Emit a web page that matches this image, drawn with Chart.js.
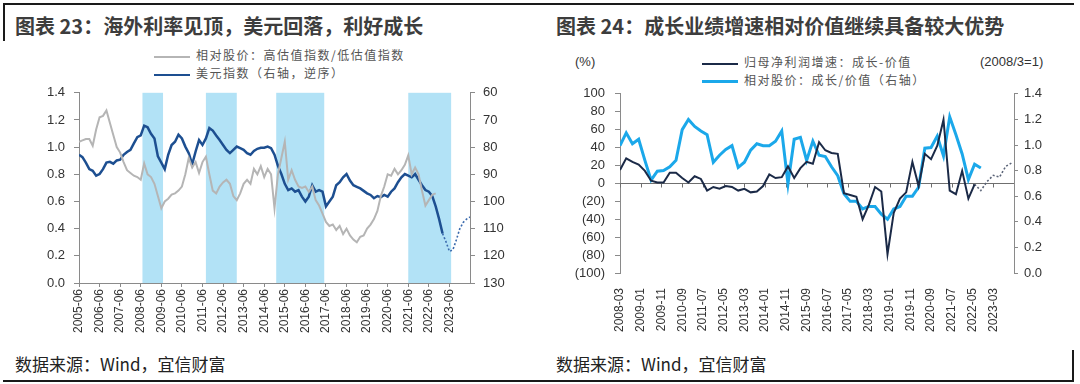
<!DOCTYPE html>
<html lang="zh-CN">
<head>
<meta charset="UTF-8">
<title>海外利率见顶 / 成长业绩增速</title>
<script src="https://cdn.jsdelivr.net/npm/chart.js@4.4.1/dist/chart.umd.min.js"></script>
<style>
    body { margin: 0; width: 1080px; height: 384px; background: #fff; position: relative; overflow: hidden;
           font-family: "Noto Sans CJK SC", "Noto Sans", sans-serif; }
    .rule { position: absolute; background: #1a1a1a; }
    .title { position: absolute; top: 12px; font-size: 20px; font-weight: bold; color: #3d3d3d; white-space: nowrap; line-height: 28px; }
    .source { position: absolute; top: 352px; font-size: 17px; color: #222; white-space: nowrap; line-height: 24px; }
    .legend { position: absolute; font-size: 12px; letter-spacing: 1.5px; color: #555; white-space: nowrap; line-height: 16px; }
    .legend i { display: inline-block; width: 36px; height: 0; vertical-align: middle; margin-right: 6px; }
    .unit { position: absolute; font-family: "Liberation Sans", Arial, sans-serif; font-size: 13px; color: #333; line-height: 16px; }
    canvas { position: absolute; }
</style>
</head>
<body>
    <div class="rule" style="left:3px; top:3px; width:1071px; height:2px;"></div>
    <div class="rule" style="left:3px; top:3px; width:2px; height:38px;"></div>
    <div class="rule" style="left:3px; top:380px; width:1071px; height:2px;"></div>
    <div class="rule" style="left:1072px; top:350px; width:2px; height:32px;"></div>

    <div class="title" style="left:15px;">图表 23：海外利率见顶，美元回落，利好成长</div>
    <div class="title" style="left:556px;">图表 24：成长业绩增速相对价值继续具备较大优势</div>

    <div class="legend" style="left:154px; top:47px;"><i style="border-top:2px solid #b5b5b5"></i>相对股价：高估值指数/低估值指数</div>
    <div class="legend" style="left:154px; top:65px;"><i style="border-top:2px solid #1d4f91"></i>美元指数（右轴，逆序）</div>

    <div class="unit" style="left:575px; top:54px;">(%)</div>
    <div class="unit" style="left:980px; top:54px;">(2008/3=1)</div>
    <div class="legend" style="left:702px; top:54px;"><i style="border-top:2px solid #1b2a47"></i>归母净利润增速：成长-价值</div>
    <div class="legend" style="left:702px; top:72px;"><i style="border-top:3px solid #1ba8ea"></i>相对股价：成长/价值（右轴）</div>

    <canvas id="leftChart" width="540" height="264" style="left:0; top:76px;"></canvas>
    <canvas id="rightChart" width="540" height="264" style="left:540px; top:76px;"></canvas>

    <div class="source" style="left:15px;">数据来源：Wind，宜信财富</div>
    <div class="source" style="left:556px;">数据来源：Wind，宜信财富</div>

<script>
    // ---- 图表 23 ----
    const leftBase = '2005-06';
    const leftAxisEnd = '2024-06';
    const leftTickLabels = ['2005-06', '2006-06', '2007-06', '2008-06', '2009-06', '2010-06', '2011-06',
        '2012-06', '2013-06', '2014-06', '2015-06', '2016-06', '2017-06', '2018-06', '2019-06',
        '2020-06', '2021-06', '2022-06', '2023-06'];

    // 阴影区间
    const leftBands = [['2008-07', '2009-07'], ['2011-08', '2013-02'], ['2015-01', '2017-05'], ['2021-06', '2023-07']];

    // 相对股价：高估值指数/低估值指数 (每两个月一个点, 从 2005-06 开始)
    const relPriceStart = '2005-06';
    const relPrice = [1.04, 1.05, 1.06, 1.06, 1.01, 1.13, 1.22, 1.23, 1.27, 1.18,
        1.09, 1.00, 0.96, 0.89, 0.83, 0.81, 0.79, 0.78, 0.76, 0.88,
        0.80, 0.78, 0.73, 0.64, 0.55, 0.60, 0.62, 0.65, 0.66, 0.68,
        0.71, 0.80, 0.92, 0.85, 0.89, 0.81, 0.89, 0.93, 0.80, 0.68,
        0.66, 0.71, 0.74, 0.76, 0.73, 0.64, 0.61, 0.66, 0.73, 0.76,
        0.73, 0.84, 0.80, 0.86, 0.78, 0.84, 0.80, 0.55, 0.80, 0.92,
        1.04, 0.76, 0.83, 0.76, 0.71, 0.70, 0.71, 0.67, 0.71, 0.61,
        0.57, 0.51, 0.45, 0.42, 0.43, 0.39, 0.42, 0.36, 0.40, 0.35,
        0.32, 0.30, 0.34, 0.35, 0.40, 0.43, 0.47, 0.53, 0.64, 0.71,
        0.80, 0.79, 0.84, 0.80, 0.83, 0.87, 0.94, 0.80, 0.85, 0.80,
        0.68, 0.57, 0.61, 0.65, 0.66];

    // 美元指数 (右轴, 逆序)
    const usdStart = '2005-06';
    const usdIndex = [82.8, 83.7, 85.7, 88.1, 88.7, 90.5, 89.9, 88.1, 85.7, 85.4,
        86.1, 84.9, 84.6, 82.8, 81.8, 81.0, 78.6, 76.3, 75.7, 72.1,
        72.7, 75.1, 76.8, 83.4, 85.7, 88.1, 82.8, 79.2, 78.0, 75.4,
        76.8, 79.8, 82.2, 86.3, 81.6, 77.4, 79.2, 76.8, 73.0, 73.9,
        75.7, 77.4, 79.2, 81.0, 82.2, 81.0, 79.8, 80.4, 81.0, 82.2,
        82.8, 81.4, 80.6, 80.2, 80.2, 79.8, 80.4, 82.8, 86.9, 89.9,
        93.5, 95.8, 95.2, 96.4, 95.8, 98.2, 100.0, 98.2, 94.0, 96.4,
        95.8, 96.4, 101.8, 100.0, 98.2, 94.0, 92.9, 91.1, 89.9, 92.3,
        94.0, 94.6, 95.2, 96.1, 97.0, 97.6, 98.8, 98.0, 98.4, 97.6,
        98.2, 96.4, 95.2, 92.9, 91.1, 89.9, 90.5, 91.1, 89.9, 92.0,
        94.0, 95.8, 96.4, 98.0, 101.8, 106.5, 111.8];
    const usdForecastStart = '2023-02';
    const usdForecast = [111.8, 114.8, 118.4, 117.8, 114.2, 110.1, 107.7, 106.5, 105.7];

    // ---- 图表 24 ----
    const rightBase = '2008-03';
    const rightAxisEnd = '2024-01';
    const rightTickLabels = ['2008-03', '2009-01', '2009-11', '2010-09', '2011-07', '2012-05', '2013-03',
        '2014-01', '2014-11', '2015-09', '2016-07', '2017-05', '2018-03', '2019-01', '2019-11',
        '2020-09', '2021-07', '2022-05', '2023-03'];

    // 归母净利润增速：成长-价值 (季度)
    const profitGapStart = '2008-03';
    const profitGap = [15, 28, 24, 21, 14, 3, 1, 1, 12, 12,
        6, 1, 8, 5, -8, -4, -6, -3, -4, -8,
        -6, -10, -9, -3, 10, 6, 7, 19, 6, 17,
        24, 22, 46, 37, 34, 33, -11, -13, -15, -40,
        -24, -4, -9, -79, -33, -17, -10, 24, -3, 33,
        27, 42, 71, -8, -12, 14, -17, -1];
    const profitForecastStart = '2022-06';
    const profitForecast = [-1, -8, 2, 9, 7, 19, 23];

    // 相对股价：成长/价值 (右轴, 季度)
    const relGrowthStart = '2008-03';
    const relGrowth = [0.995, 1.095, 1.01, 1.045, 0.88, 0.725, 0.795, 0.80, 0.83, 0.88,
        1.12, 1.20, 1.145, 1.11, 1.08, 0.865, 0.92, 0.965, 0.995, 0.825,
        0.865, 0.96, 1.01, 0.995, 0.995, 1.03, 1.11, 0.695, 1.045, 1.06,
        0.88, 1.03, 0.92, 0.91, 0.83, 0.76, 0.62, 0.56, 0.56, 0.50,
        0.52, 0.52, 0.46, 0.42, 0.50, 0.52, 0.60, 0.60, 0.67, 0.975,
        0.98, 1.07, 0.915, 1.22, 1.08, 0.93, 0.73, 0.85, 0.82];

    function monthIndex(s, base) {
        const [y, m] = s.split('-').map(Number);
        const [by, bm] = base.split('-').map(Number);
        return (y - by) * 12 + (m - bm);
    }

    function toPoints(values, start, step, base) {
        const s0 = monthIndex(start, base);
        return values.map((v, i) => ({ x: s0 + i * step, y: v }));
    }

    const tickFont = { family: '"Liberation Sans", Arial, sans-serif', size: 13 };
    const xFont = { family: '"Liberation Sans", Arial, sans-serif', size: 12 };
    const axisColor = '#8a8a8a';
    const labelColor = '#333';

    const bandsPlugin = {
        id: 'bands',
        beforeDatasetsDraw(chart) {
            const { ctx, chartArea, scales } = chart;
            ctx.save();
            ctx.fillStyle = '#b2e2f6';
            leftBands.forEach(b => {
                const x1 = scales.x.getPixelForValue(monthIndex(b[0], leftBase));
                const x2 = scales.x.getPixelForValue(monthIndex(b[1], leftBase));
                ctx.fillRect(x1, chartArea.top, x2 - x1, chartArea.bottom - chartArea.top);
            });
            ctx.restore();
        }
    };

    const zeroAxisPlugin = {
        id: 'zeroAxis',
        beforeDatasetsDraw(chart) {
            const { ctx, chartArea, scales } = chart;
            const y0 = Math.round(scales.y.getPixelForValue(0)) + 0.5;
            ctx.save();
            ctx.strokeStyle = '#6f6f6f';
            ctx.lineWidth = 1;
            ctx.beginPath();
            ctx.moveTo(chartArea.left, y0);
            ctx.lineTo(chartArea.right, y0);
            scales.x.ticks.forEach(t => {
                const x = Math.round(scales.x.getPixelForValue(t.value)) + 0.5;
                ctx.moveTo(x, y0);
                ctx.lineTo(x, y0 + 4);
            });
            ctx.stroke();
            ctx.restore();
        }
    };

    new Chart(document.getElementById('leftChart'), {
        type: 'line',
        data: {
            datasets: [
                {
                    label: '相对股价：高估值指数/低估值指数',
                    data: toPoints(relPrice, relPriceStart, 2, leftBase),
                    borderColor: '#b5b5b5',
                    borderWidth: 2,
                    yAxisID: 'y'
                },
                {
                    label: '美元指数（右轴，逆序）',
                    data: toPoints(usdIndex, usdStart, 2, leftBase),
                    borderColor: '#1d4f91',
                    borderWidth: 2.5,
                    yAxisID: 'y1'
                },
                {
                    label: '美元指数（预测）',
                    data: toPoints(usdForecast, usdForecastStart, 2, leftBase),
                    borderColor: '#3a6aad',
                    borderWidth: 1.6,
                    borderDash: [2, 2],
                    yAxisID: 'y1'
                }
            ]
        },
        options: {
            responsive: false,
            animation: false,
            devicePixelRatio: 1,
            layout: { padding: { top: 10 } },
            elements: { point: { radius: 0 }, line: { tension: 0 } },
            plugins: { legend: { display: false }, tooltip: { enabled: false } },
            scales: {
                x: {
                    type: 'linear',
                    min: 0,
                    max: monthIndex(leftAxisEnd, leftBase),
                    afterBuildTicks: s => { s.ticks = leftTickLabels.map(l => ({ value: monthIndex(l, leftBase) })); },
                    ticks: {
                        autoSkip: false, minRotation: 90, maxRotation: 90, padding: 2,
                        font: xFont, color: labelColor,
                        callback: (v, i) => leftTickLabels[i]
                    },
                    grid: { drawOnChartArea: false, tickLength: 4, color: axisColor },
                    border: { color: axisColor },
                    afterFit: s => { s.height = 57; }
                },
                y: {
                    position: 'left',
                    min: 0, max: 1.4,
                    ticks: { autoSkip: false, stepSize: 0.2, padding: 9, font: tickFont, color: labelColor, callback: v => v.toFixed(1) },
                    grid: { drawOnChartArea: false, tickLength: 5, color: axisColor },
                    border: { color: axisColor },
                    afterFit: s => { s.width = 79; }
                },
                y1: {
                    position: 'right',
                    min: 60, max: 130, reverse: true,
                    ticks: { autoSkip: false, stepSize: 10, padding: 8, font: tickFont, color: labelColor },
                    grid: { drawOnChartArea: false, tickLength: 5, color: axisColor },
                    border: { color: axisColor },
                    afterFit: s => { s.width = 70; }
                }
            }
        },
        plugins: [bandsPlugin]
    });

    new Chart(document.getElementById('rightChart'), {
        type: 'line',
        data: {
            datasets: [
                {
                    label: '归母净利润增速：成长-价值',
                    data: toPoints(profitGap, profitGapStart, 3, rightBase),
                    borderColor: '#1b2a47',
                    borderWidth: 2,
                    yAxisID: 'y'
                },
                {
                    label: '归母净利润增速（预测）',
                    data: toPoints(profitForecast, profitForecastStart, 3, rightBase),
                    borderColor: '#5b6478',
                    borderWidth: 1.6,
                    borderDash: [2, 2],
                    yAxisID: 'y'
                },
                {
                    label: '相对股价：成长/价值（右轴）',
                    data: toPoints(relGrowth, relGrowthStart, 3, rightBase),
                    borderColor: '#1ba8ea',
                    borderWidth: 3,
                    yAxisID: 'y1'
                }
            ]
        },
        options: {
            responsive: false,
            animation: false,
            devicePixelRatio: 1,
            layout: { padding: { top: 10 } },
            elements: { point: { radius: 0 }, line: { tension: 0 } },
            plugins: { legend: { display: false }, tooltip: { enabled: false } },
            scales: {
                x: {
                    type: 'linear',
                    min: 0,
                    max: monthIndex(rightAxisEnd, rightBase),
                    afterBuildTicks: s => { s.ticks = rightTickLabels.map(l => ({ value: monthIndex(l, rightBase) })); },
                    ticks: {
                        autoSkip: false, minRotation: 90, maxRotation: 90, padding: 7,
                        font: xFont, color: labelColor,
                        callback: (v, i) => rightTickLabels[i]
                    },
                    grid: { display: false },
                    border: { display: false },
                    afterFit: s => { s.height = 67; }
                },
                y: {
                    position: 'left',
                    min: -100, max: 100,
                    ticks: {
                        autoSkip: false, stepSize: 20, padding: 10, font: tickFont, color: labelColor,
                        callback: v => v < 0 ? '(' + (-v) + ')' : String(v)
                    },
                    grid: { drawOnChartArea: false, tickLength: 5, color: axisColor },
                    border: { color: axisColor },
                    afterFit: s => { s.width = 80; }
                },
                y1: {
                    position: 'right',
                    min: 0, max: 1.4,
                    ticks: { autoSkip: false, stepSize: 0.2, padding: 6, font: tickFont, color: labelColor, callback: v => v.toFixed(1) },
                    grid: { drawOnChartArea: false, tickLength: 4, color: axisColor },
                    border: { color: axisColor },
                    afterFit: s => { s.width = 66; }
                }
            }
        },
        plugins: [zeroAxisPlugin]
    });
</script>
</body>
</html>
